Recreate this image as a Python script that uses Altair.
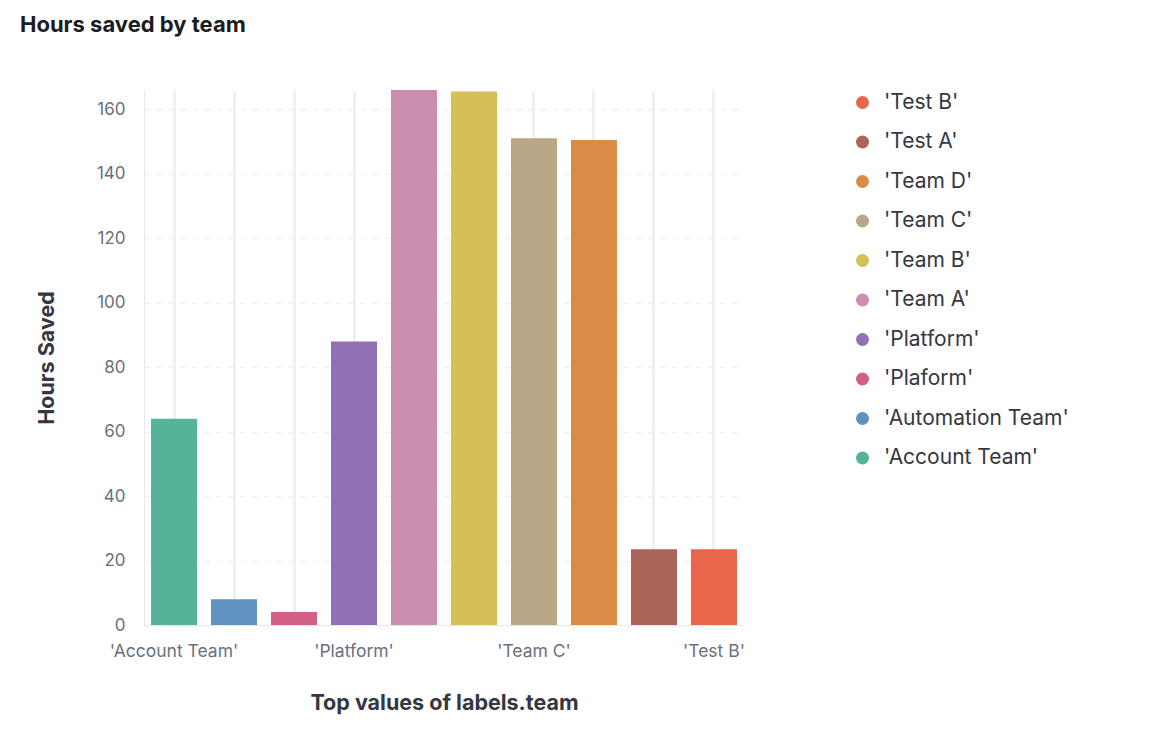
import json
import altair as alt
import pandas as pd

teams = ["'Account Team'", "'Automation Team'", "'Plaform'", "'Platform'", "'Team A'",
         "'Team B'", "'Team C'", "'Team D'", "'Test A'", "'Test B'"]
hours = [64, 8, 4, 88, 166, 165.5, 151, 150.5, 23.5, 23.5]
colors = ["#54b399", "#6092c0", "#d36086", "#9170b8", "#ca8eae",
          "#d6bf57", "#b9a888", "#da8b45", "#aa6556", "#e7664c"]
x_tick_labels = ["'Account Team'", "'Platform'", "'Team C'", "'Test B'"]
y_ticks = [0, 20, 40, 60, 80, 100, 120, 140, 160]

df = pd.DataFrame({"team": teams, "hours": hours})

label_expr = ("indexof([" + ",".join(json.dumps(v) for v in x_tick_labels)
              + "], datum.value) >= 0 ? datum.label : ''")

GRID = "#eef0f3"
LABEL = "#69707d"
TITLE = "#343741"

chart = alt.Chart(df).mark_bar().encode(
    x=alt.X(
        "team:N", sort=teams, title="Top values of labels.team",
        scale=alt.Scale(paddingInner=0.233, paddingOuter=0.117),
        axis=alt.Axis(
            labelAngle=0, labelExpr=label_expr, labelOverlap=False, bandPosition=0.5,
            grid=True, gridColor=GRID, gridWidth=3, ticks=False,
            domain=True, domainColor="#e6e8ec", domainWidth=1,
            labelColor=LABEL, labelFontSize=17.5, labelPadding=17, labelFont="Inter",
            titleFontSize=21.5, titleFontWeight="bold", titleColor=TITLE, titleFont="Inter",
            titlePadding=33,
        ),
    ),
    y=alt.Y(
        "hours:Q", title="Hours Saved",
        scale=alt.Scale(nice=False, zero=True),
        axis=alt.Axis(
            values=y_ticks, grid=True, gridColor=GRID, gridDash=[6, 6], gridWidth=1.5,
            ticks=False, domain=True, domainColor="#e6e8ec", domainWidth=1,
            labelColor=LABEL, labelFontSize=17, labelPadding=19, labelFont="Inter",
            titleFontSize=21.5, titleFontWeight="bold", titleColor=TITLE, titleFont="Inter",
            titlePadding=38,
        ),
    ),
    color=alt.Color(
        "team:N",
        scale=alt.Scale(domain=teams[::-1], range=colors[::-1]),
        legend=alt.Legend(
            title=None, orient="none", legendX=708, legendY=2, direction="vertical",
            symbolType="circle", symbolSize=169, symbolStrokeWidth=0, symbolOpacity=1,
            labelFontSize=21, labelFont="Inter", labelColor=TITLE, labelOffset=11,
            rowPadding=17.5, labelLimit=400,
        ),
    ),
).properties(
    width=600, height=535,
    padding={"left": 12, "top": 6, "right": 10, "bottom": 10},
    title=alt.TitleParams(
        "Hours saved by team", anchor="start", frame="group", dx=-124,
        fontSize=22, fontWeight="bold", color="#1a1c21", font="Inter", offset=53,
    ),
).configure(background="white").configure_view(stroke=None)

chart.save("out.html", embed_options={"renderer": "svg", "actions": False})
